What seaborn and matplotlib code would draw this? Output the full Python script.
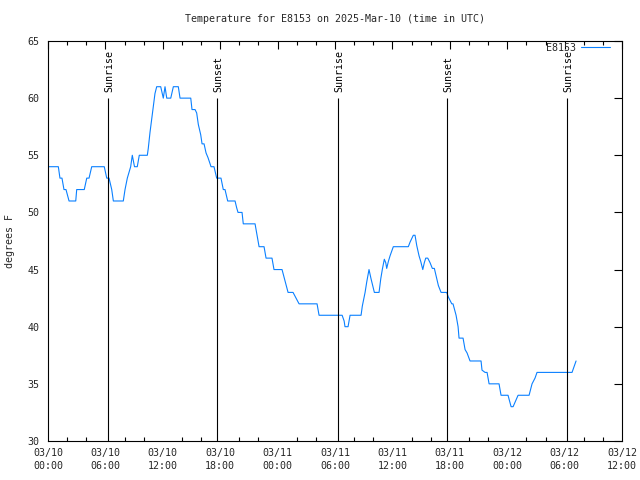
import matplotlib
matplotlib.use("Agg")
import matplotlib.pyplot as plt
import numpy as np
import pandas as pd
import seaborn as sns

# ---- data (hours since 2025-03-10 00:00 UTC, temperature in degrees F) ----
hours = [0.00, 1.08, 1.25, 1.46, 1.67, 1.88, 2.20, 2.90, 3.00, 3.79, 4.05, 4.29,
         4.57, 5.88, 6.14, 6.38, 6.66, 6.83, 7.87, 8.05, 8.29, 8.64, 8.81, 9.04,
         9.33, 9.54, 10.38, 10.48, 10.66, 10.84, 11.01, 11.18, 11.36, 11.78, 12.05,
         12.23, 12.41, 12.83, 13.10, 13.62, 13.80, 14.92, 15.05, 15.37, 15.54, 15.71,
         15.96, 16.10, 16.31, 16.52, 16.72, 17.04, 17.35, 17.63, 18.08, 18.32, 18.50,
         18.78, 19.55, 19.72, 19.86, 20.28, 20.41, 21.64, 21.85, 22.06, 22.58, 22.79,
         23.41, 23.62, 24.46, 24.77, 25.09, 25.61, 25.92, 26.24, 28.12, 28.33, 30.74,
         30.95, 31.04, 31.36, 31.57, 32.72, 32.85, 33.14, 33.31, 33.55, 33.76, 34.00,
         34.11, 34.60, 34.78, 34.94, 35.15, 35.30, 35.40, 35.57, 35.75, 36.09, 37.66,
         37.84, 38.18, 38.36, 38.54, 38.78, 38.96, 39.17, 39.33, 39.48, 39.69, 39.93,
         40.17, 40.38, 40.63, 40.80, 41.08, 41.67, 41.84, 42.20, 42.33, 42.65, 42.86,
         42.96, 43.38, 43.59, 43.80, 44.11, 45.26, 45.36, 45.68, 45.89, 46.10, 47.14,
         47.35, 48.08, 48.40, 48.61, 49.13, 50.28, 50.59, 50.90, 51.11, 54.77, 55.19]
temps = [54, 54, 53, 53, 52, 52, 51, 51, 52, 52, 53, 53,
         54, 54, 53, 53, 52, 51, 51, 52, 53, 54, 55, 54,
         54, 55, 55, 55.6, 57, 58.2, 59.3, 60.4, 61, 61, 60,
         61, 60, 60, 61, 61, 60, 60, 59, 59, 58.7, 57.7,
         56.8, 56, 56, 55.2, 54.8, 54, 54, 53, 53, 52, 52,
         51, 51, 50.4, 50, 50, 49, 49, 48, 47, 47, 46,
         46, 45, 45, 44, 43, 43, 42.5, 42, 42, 41, 41,
         40.5, 40, 40, 41, 41, 41.8, 43, 43.9, 45, 44.2, 43.4,
         43, 43, 44.2, 45, 45.9, 45.6, 45.1, 45.7, 46.2, 47, 47,
         47.4, 48, 48, 47.1, 46.2, 45.7, 45, 45.6, 46, 46, 45.6,
         45.1, 45.1, 44.2, 43.6, 43, 43, 42.6, 42, 42, 41, 40,
         39, 39, 38, 37.7, 37, 37, 36.2, 36, 36, 35, 35,
         34, 34, 33, 33, 34, 34, 35, 35.5, 36, 36, 37]

event_hours = [6.30, 17.70, 30.34, 41.74, 54.28]
event_labels = ["Sunrise", "Sunset", "Sunrise", "Sunset", "Sunrise"]

x_ticks = [0, 6, 12, 18, 24, 30, 36, 42, 48, 54, 60]
x_tick_labels = ["03/10\n00:00", "03/10\n06:00", "03/10\n12:00", "03/10\n18:00",
                 "03/11\n00:00", "03/11\n06:00", "03/11\n12:00", "03/11\n18:00",
                 "03/12\n00:00", "03/12\n06:00", "03/12\n12:00"]
y_ticks = [30, 35, 40, 45, 50, 55, 60, 65]

title = "Temperature for E8153 on 2025-Mar-10 (time in UTC)"
series_name = "E8153"
y_label = "degrees F"

# ---- style ----
sns.set_style("white")
plt.rcParams["font.family"] = ["DejaVu Sans Mono"]
FS = 7.2
LW = 0.8

df = pd.DataFrame({"hours": hours, "temp": temps})

fig = plt.figure(figsize=(6.4, 4.8), dpi=100)
ax = fig.add_axes([0.075, 0.0813, 0.897, 0.8333])

sns.lineplot(data=df, x="hours", y="temp", ax=ax, color="#0a80ff",
             linewidth=LW, label=series_name)

ax.vlines(event_hours, 30, 60, color="black", linewidth=LW)
for h, lab in zip(event_hours, event_labels):
    ax.text(h + 0.1, 60.5, lab, rotation=90, ha="center", va="bottom",
            fontsize=FS, color="black")

ax.set_xlim(0, 60)
ax.set_ylim(30, 65)
ax.set_xticks(x_ticks)
ax.set_xticklabels(x_tick_labels, linespacing=1.4)
ax.set_xticks(np.arange(0, 61, 2), minor=True)
ax.set_yticks(y_ticks)
ax.set_yticklabels([str(v) for v in y_ticks])
ax.set_xlabel("")
ax.set_ylabel("")

ax.tick_params(axis="both", which="major", direction="in", top=True, right=True,
               length=6, width=LW, labelsize=FS, color="black")
ax.tick_params(axis="x", which="minor", direction="in", top=True, bottom=True,
               length=3, width=LW, color="black")
ax.tick_params(axis="x", which="major", pad=5)
ax.tick_params(axis="y", which="major", pad=6)

for s in ax.spines.values():
    s.set_visible(True)
    s.set_color("black")
    s.set_linewidth(LW)

leg = ax.legend(loc="upper right", bbox_to_anchor=((610 - 48) / 574, 1 - 2 / 400),
                frameon=False, markerfirst=False, fontsize=FS, handlelength=2.9,
                handletextpad=0.5, borderaxespad=0, borderpad=0)

fig.text(335 / 640, 1 - 19 / 480, title, ha="center", va="center", fontsize=FS)
fig.text(10 / 640, 1 - 241 / 480, y_label, ha="center", va="center",
         rotation=90, fontsize=FS)

fig.savefig("out.png", dpi=100, facecolor="white")
